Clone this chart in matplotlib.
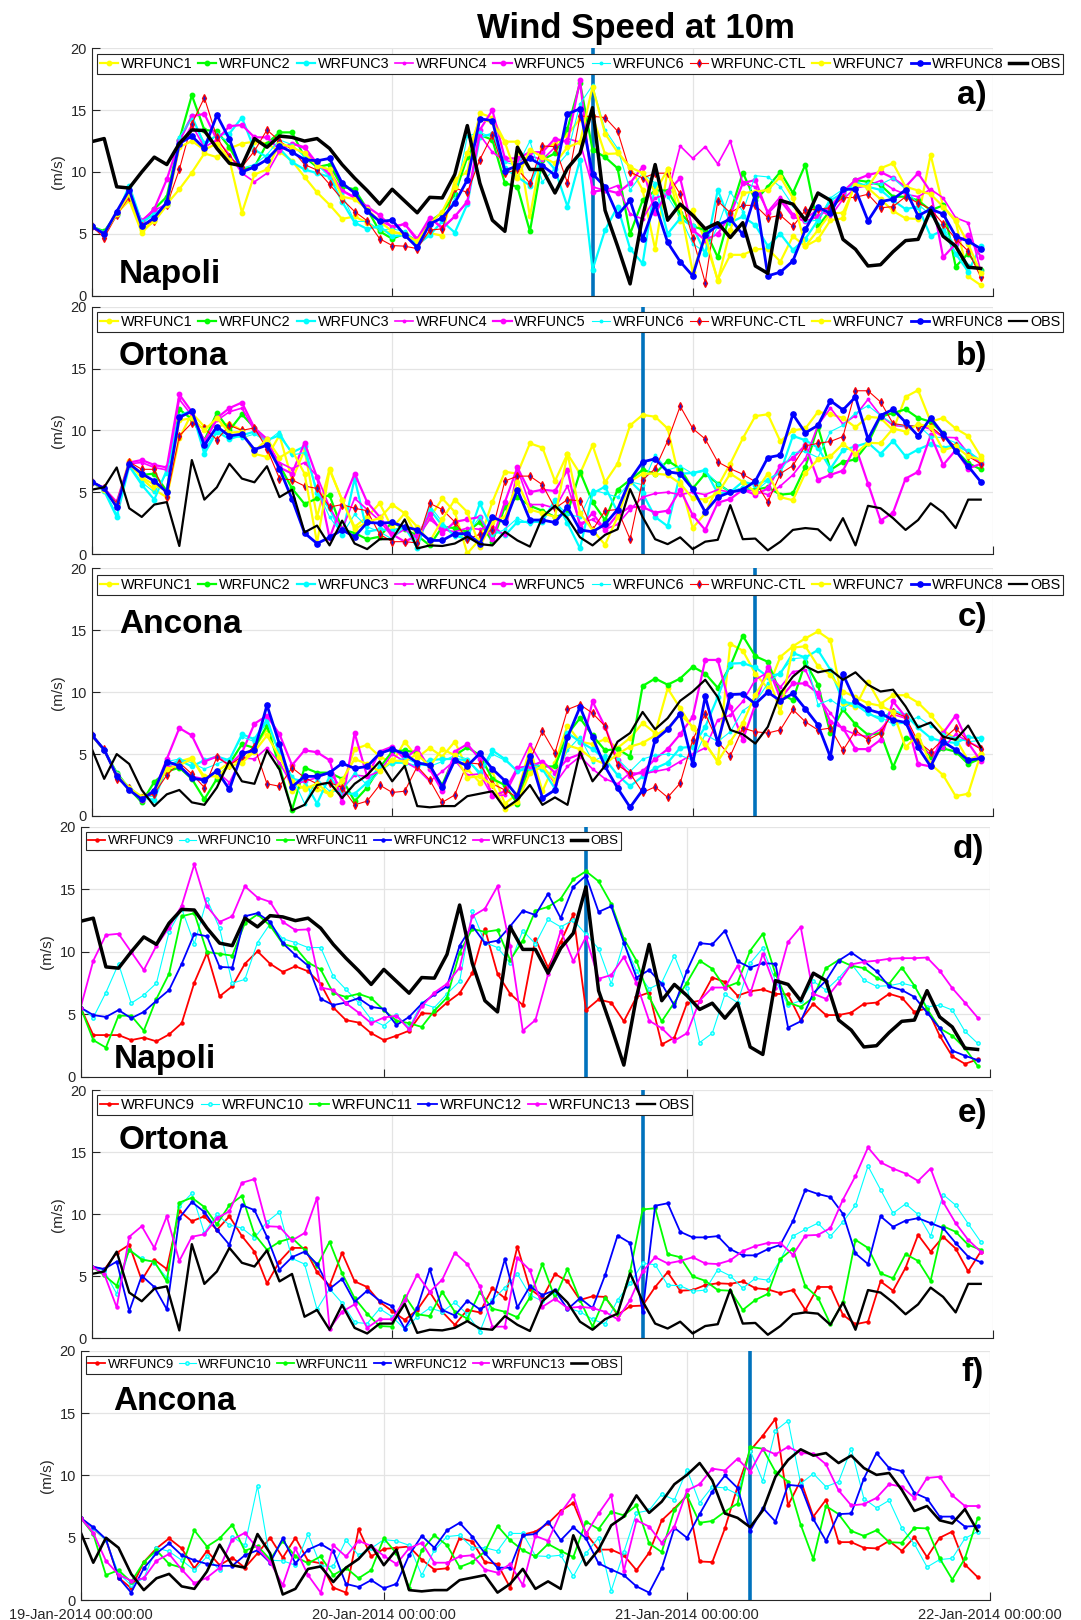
import numpy as np
import pandas as pd
import matplotlib
matplotlib.use('Agg')
import matplotlib.pyplot as plt
import matplotlib.dates as mdates

plt.rcParams['font.family'] = ['Liberation Sans', 'DejaVu Sans']

# hourly time axis, 19-Jan-2014 00:00 .. 21-Jan-2014 23:00
times = pd.date_range('2014-01-19 00:00', periods=72, freq='h')
day_ticks = pd.date_range('2014-01-19', '2014-01-22', freq='D')

# ---------------- observations ----------------
NAP_OBS = [12.45,12.7,8.8,8.7,10.0,11.2,10.6,12.3,13.4,13.35,
           11.9,10.7,10.5,12.7,12.0,12.9,12.8,12.5,12.7,11.9,
           10.6,9.5,8.5,7.4,8.6,7.65,6.7,7.95,7.9,9.8,
           13.75,9.1,6.1,5.2,12.0,10.2,10.2,8.3,10.3,11.5,
           15.2,6.9,4.0,0.95,6.4,10.6,6.1,7.4,6.5,5.4,
           5.9,4.7,5.9,2.4,1.8,7.7,7.4,6.1,8.3,7.7,
           4.55,3.75,2.4,2.5,3.55,4.45,4.55,6.9,4.8,4.0,
           2.3,2.2]
ORT_OBS = [5.2,5.4,7.0,3.7,3.0,4.0,4.2,0.65,7.6,4.4,
           5.4,7.3,6.1,5.8,7.1,4.6,5.2,1.75,2.3,0.7,
           2.7,0.85,0.4,1.2,1.2,2.8,0.45,0.7,0.65,0.85,
           1.4,0.8,0.7,1.8,1.1,0.6,3.0,3.9,2.9,1.35,
           0.7,1.55,2.0,5.25,3.0,1.2,0.8,1.35,0.4,1.0,
           1.15,3.95,1.2,1.25,0.3,1.0,1.95,2.1,2.0,1.1,
           2.9,0.7,3.9,3.7,2.9,1.95,2.75,4.1,3.35,2.1,
           4.4,4.4]
ANC_OBS = [5.45,3.0,5.0,4.2,2.1,0.8,1.75,2.1,1.1,0.9,
           2.3,4.45,2.8,2.6,5.3,3.75,0.45,0.9,2.5,2.7,
           1.45,2.6,3.3,4.4,2.8,4.05,0.8,0.7,0.8,0.8,
           1.6,1.8,2.0,0.6,1.3,2.5,0.9,1.5,0.9,5.2,
           2.8,4.05,6.0,6.7,8.4,7.0,7.9,9.3,10.05,11.0,
           9.6,6.95,6.6,5.85,7.2,9.9,11.25,12.1,11.6,11.8,
           11.0,11.6,10.6,10.05,10.2,8.85,7.15,7.55,6.4,6.15,
           7.3,5.55]

# ---------------- Napoli, runs 1-8 + CTL ----------------
NAP_W1 = [5.6,5.05,6.65,7.7,5.1,6.1,7.4,8.6,9.95,11.5,
          11.2,11.9,12.3,12.45,12.3,11.65,10.9,9.6,8.35,7.35,
          6.2,6.4,5.9,5.3,5.1,5.05,4.3,5.05,4.85,9.4,
          10.0,14.75,14.4,12.45,12.45,6.4,11.9,12.3,13.0,14.3,
          14.5,11.45,11.5,10.4,8.55,3.75,10.2,6.0,6.9,4.45,
          1.3,3.3,3.3,3.75,3.8,2.75,4.8,4.0,4.55,6.1,
          6.25,9.2,8.7,7.8,6.85,6.25,6.2,11.4,7.2,6.0,
          1.55,0.85]
NAP_W2 = [5.6,5.2,6.6,8.3,5.8,7.0,8.0,12.6,16.2,13.4,
          13.3,12.0,10.2,10.4,12.3,13.2,13.2,11.2,10.4,10.6,
          8.8,8.6,7.0,5.2,4.6,5.0,4.4,6.0,6.7,8.2,
          11.2,13.0,12.6,9.1,8.8,5.2,11.0,11.5,13.5,17.2,
          11.8,11.2,10.3,5.0,7.7,8.5,8.5,6.7,5.6,5.3,
          3.1,6.7,9.95,7.7,8.8,10.0,8.3,10.6,5.6,6.9,
          8.2,9.35,9.2,8.95,8.0,8.0,7.7,6.9,7.3,2.35,
          3.4,2.1]
NAP_W3 = [5.6,5.1,6.5,8.9,5.9,6.6,7.3,12.6,14.5,12.2,
          13.0,13.1,14.4,11.8,11.2,11.9,10.8,10.2,9.9,9.6,
          7.6,5.9,5.4,5.6,4.8,4.9,4.1,4.9,6.0,5.1,
          7.4,12.8,13.1,10.3,9.6,8.9,11.4,10.2,7.2,11.0,
          2.1,5.3,7.2,3.8,2.6,8.95,5.0,6.25,5.6,3.4,
          8.55,5.9,6.4,5.7,4.0,5.0,3.7,4.6,6.1,7.7,
          8.3,9.2,8.8,8.55,7.7,7.0,7.2,4.8,5.3,3.4,
          1.95,4.0]
NAP_W4 = [5.5,5.0,6.6,8.0,6.1,6.9,7.4,12.0,13.8,12.0,
          12.6,11.4,9.9,9.2,9.9,11.7,12.3,11.9,10.4,10.1,
          8.5,8.0,7.0,6.0,5.6,5.8,4.4,6.3,5.4,6.4,
          7.6,13.0,11.6,10.9,10.8,11.3,11.0,12.0,12.7,12.4,
          8.8,8.5,8.9,6.6,6.2,7.9,8.2,12.1,11.1,12.05,
          10.65,12.5,9.1,8.8,6.8,8.0,6.6,6.2,7.0,6.4,
          7.8,8.7,8.9,9.3,8.6,8.2,8.0,8.6,7.9,6.3,
          5.9,2.0]
NAP_W5 = [5.6,5.0,6.7,8.2,6.0,7.0,9.4,12.5,14.5,14.7,
          12.6,13.7,13.8,12.8,12.8,11.8,12.3,12.0,10.7,9.8,
          8.5,7.9,7.2,6.5,5.5,5.8,4.6,6.3,5.5,6.4,
          7.6,13.4,15.0,11.1,11.1,11.6,11.6,12.7,12.4,17.4,
          8.4,8.55,8.3,9.1,10.4,6.65,8.4,9.5,5.3,4.5,
          5.0,6.5,9.1,9.35,6.65,7.7,6.4,6.0,6.4,7.2,
          8.4,9.35,9.75,10.0,9.5,8.8,9.9,8.4,3.1,4.2,
          4.9,3.15]
NAP_W6 = [5.6,5.1,6.7,8.8,6.0,6.6,7.3,12.8,14.3,12.4,
          12.9,12.5,10.3,10.6,11.4,12.6,12.2,11.2,10.6,9.6,
          8.2,6.0,6.0,5.3,5.4,5.2,4.3,5.8,6.2,7.8,
          12.9,13.2,12.8,10.8,10.5,12.5,9.2,10.3,11.5,15.5,
          17.0,13.4,11.9,8.55,9.9,9.1,8.0,6.4,4.2,3.5,
          5.6,8.4,6.8,9.7,9.6,8.8,7.3,6.0,6.1,7.9,
          8.6,8.8,9.1,9.0,9.5,8.6,7.4,6.5,5.5,4.0,
          2.5,2.1]
NAP_CTL = [5.6,4.7,6.5,8.0,5.6,6.05,7.3,10.2,13.9,16.0,
           12.8,11.2,10.4,11.7,13.4,12.5,11.8,10.6,10.15,9.0,
           7.8,6.8,6.05,4.6,4.05,4.0,3.8,5.3,5.4,8.7,
           8.35,11.0,13.0,9.9,10.2,9.1,12.1,12.05,9.1,14.5,
           14.5,14.4,13.3,10.0,9.5,9.9,9.9,8.2,4.7,1.05,
           7.65,6.7,7.3,7.3,6.3,6.5,5.6,6.9,7.0,7.1,
           7.9,7.95,8.2,7.1,7.2,8.0,7.5,7.0,5.8,4.6,
           3.6,1.5]
NAP_W7 = [5.6,5.0,6.6,8.2,5.3,6.0,7.3,12.0,12.5,11.8,
          12.3,11.0,6.7,9.8,10.2,12.3,12.0,11.5,10.5,10.2,
          8.0,7.8,7.0,6.0,5.2,4.9,4.4,5.8,6.8,8.8,
          11.5,14.3,14.0,12.4,9.5,11.8,11.2,10.7,12.0,12.4,
          16.9,13.1,11.6,10.4,9.9,8.4,10.2,7.2,1.9,4.9,
          1.2,5.3,8.3,8.4,8.55,9.6,7.9,4.0,5.3,6.65,
          6.7,8.95,8.8,10.3,10.7,8.8,8.5,8.2,7.2,6.1,
          4.2,1.8]
NAP_W8 = [5.6,5.0,6.8,8.55,5.6,6.3,7.55,12.3,12.9,11.9,
          14.6,12.65,10.0,10.4,11.0,12.1,11.6,11.0,10.9,11.1,
          9.1,8.3,6.85,6.0,6.1,4.9,3.9,5.8,6.3,7.5,
          9.35,14.3,14.15,10.1,10.5,11.1,10.5,9.75,14.7,15.1,
          9.85,8.8,6.5,7.7,4.6,7.4,4.3,2.75,1.6,4.9,
          5.7,6.2,4.95,8.2,1.6,1.9,2.8,5.35,7.15,6.65,
          8.6,8.6,6.05,7.6,7.8,8.55,6.45,7.0,6.6,4.8,
          4.4,3.8]

# ---------------- Ortona, runs 1-8 + CTL ----------------
ORT_W1 = [5.85,5.3,4.1,7.55,6.1,5.2,4.6,9.35,11.4,10.3,
          10.3,10.55,10.0,8.1,7.85,9.6,6.0,8.4,3.0,6.9,
          4.35,2.2,3.0,4.1,2.1,3.3,1.4,2.9,4.5,3.4,
          0.05,1.2,4.2,6.65,6.5,8.95,8.6,5.9,8.1,6.5,
          8.8,5.8,7.3,10.4,11.25,11.1,10.15,5.8,2.1,3.3,
          5.45,7.3,9.35,11.15,11.3,9.1,10.0,10.15,11.5,11.3,
          11.0,10.25,11.1,11.0,10.0,12.7,13.25,10.7,11.0,10.15,
          9.55,7.9]
ORT_W2 = [5.85,5.2,4.1,7.2,6.4,6.5,5.1,11.7,10.9,9.2,
          11.4,10.0,11.3,10.2,9.0,7.2,5.3,4.05,4.5,4.75,
          2.0,1.7,1.2,1.4,2.6,2.0,1.5,0.7,2.2,2.1,
          1.8,2.6,1.0,3.8,4.6,3.9,3.5,3.0,3.3,6.65,
          4.2,2.75,5.2,6.0,6.8,6.5,7.55,6.9,5.3,6.5,
          5.7,5.0,5.3,5.2,5.4,4.8,4.9,7.05,10.3,6.8,
          7.45,7.65,8.95,11.1,11.4,11.7,11.0,10.7,9.75,8.4,
          7.35,6.85]
ORT_W3 = [5.85,5.1,3.0,7.1,5.6,4.4,6.8,11.2,11.6,8.1,
          9.9,9.3,9.6,9.9,9.2,9.6,8.2,8.7,4.9,3.7,
          1.5,6.1,1.8,2.0,1.9,2.2,0.5,3.6,2.3,1.5,
          1.2,4.1,2.0,1.5,2.6,2.6,2.6,4.4,2.5,0.45,
          4.9,5.45,3.4,5.9,4.9,3.0,2.25,6.5,6.55,6.8,
          4.9,5.0,5.85,5.6,6.0,6.6,9.55,9.2,8.6,6.9,
          8.4,8.7,9.0,8.1,9.15,7.9,8.45,8.9,8.6,8.8,
          8.3,7.45]
ORT_W4 = [5.8,5.4,4.0,7.3,7.4,7.0,6.8,12.5,11.2,9.2,
          10.8,11.5,11.8,10.0,9.0,7.4,6.9,7.4,6.3,3.8,
          2.0,4.5,3.6,2.7,1.4,2.0,1.3,2.8,2.0,1.8,
          2.1,2.0,2.3,1.5,6.9,4.0,4.0,3.7,5.5,2.5,
          2.8,2.0,2.4,3.6,4.6,4.9,5.0,4.8,5.0,4.8,
          5.2,5.0,5.2,5.1,4.8,5.5,6.4,7.7,10.4,11.8,
          10.5,11.2,12.5,11.2,10.4,10.3,10.4,10.1,9.45,9.4,
          8.15,7.3]
ORT_W5 = [5.85,5.3,4.2,7.4,7.6,7.2,7.0,12.9,11.5,9.0,
          11.0,11.8,12.25,10.2,9.3,7.0,6.5,9.0,6.2,1.3,
          4.0,6.5,4.2,3.0,1.6,1.0,1.5,3.2,1.7,2.6,
          2.8,3.0,1.2,4.2,7.0,5.0,5.2,5.1,6.8,2.2,
          3.3,1.95,3.2,3.8,3.8,3.35,3.5,5.2,3.15,1.95,
          4.15,4.45,5.2,4.8,5.3,7.15,7.75,8.8,6.0,6.4,
          6.75,8.7,5.7,2.7,3.35,6.1,6.65,9.6,7.2,8.4,
          6.9,7.3]
ORT_W6 = [5.8,5.2,3.2,7.2,5.8,5.0,6.5,11.0,11.6,8.4,
          10.0,9.6,9.4,9.7,9.1,9.9,8.0,8.2,5.2,3.0,
          1.6,3.2,2.2,1.8,1.2,2.3,1.0,3.9,2.6,1.4,
          1.6,3.0,1.5,2.0,2.9,2.4,2.9,4.2,3.2,3.0,
          5.2,4.9,4.6,5.85,5.6,8.0,6.8,7.1,6.5,6.7,
          5.7,5.0,5.4,5.1,5.9,6.7,8.2,8.3,7.8,9.9,
          10.4,11.4,12.0,11.2,10.55,10.3,10.4,9.5,9.4,9.0,
          8.3,7.6]
ORT_CTL = [5.85,5.3,4.1,7.45,6.85,6.85,4.6,9.55,10.6,10.15,
           9.25,10.4,10.0,10.2,8.5,6.1,6.0,5.5,5.3,3.8,
           4.0,3.7,3.5,1.6,1.0,1.0,0.9,4.1,3.6,2.6,
           1.2,1.6,1.95,5.9,6.3,6.3,5.6,3.7,4.4,4.3,
           1.95,3.5,3.6,1.2,6.0,6.9,9.15,11.95,10.15,9.3,
           7.45,6.9,6.45,5.85,4.2,6.5,7.15,8.75,8.95,9.1,
           9.5,13.2,13.2,12.3,10.55,10.4,10.3,10.3,9.5,8.7,
           7.9,7.3]
ORT_W7 = [5.8,5.2,3.9,7.3,6.2,5.6,5.1,10.8,11.0,10.0,
          11.0,9.8,9.9,8.3,9.3,7.8,8.4,6.5,0.9,6.8,
          4.4,2.0,2.6,2.9,4.0,3.3,2.2,1.0,2.8,4.4,
          3.4,0.6,2.6,3.0,5.8,3.6,3.3,3.0,8.1,3.3,
          1.95,0.75,3.0,5.85,6.5,6.5,6.4,5.7,4.5,4.4,
          4.9,6.5,5.85,5.0,6.5,4.6,4.35,6.55,7.65,7.9,
          8.9,8.1,9.0,8.95,10.15,9.9,10.5,10.3,8.4,8.7,
          7.9,7.65]
ORT_W8 = [5.85,5.3,3.8,7.3,6.5,5.9,5.0,11.05,11.55,8.8,
          10.3,9.55,9.7,8.45,8.8,6.9,4.45,1.7,0.85,1.35,
          1.95,1.4,2.55,2.5,2.55,2.2,1.95,1.1,1.1,1.65,
          1.65,0.85,3.0,2.55,5.2,2.75,2.75,2.55,3.8,1.95,
          1.8,2.4,3.6,6.0,7.45,7.7,6.65,6.5,5.25,3.4,
          4.6,5.0,5.2,5.9,7.8,8.0,11.3,9.8,10.4,12.4,
          11.65,12.7,9.3,11.2,11.7,10.65,9.55,11.0,9.7,8.35,
          7.1,5.85]

# ---------------- Ancona, runs 1-8 + CTL ----------------
ANC_W1 = [6.55,5.35,3.4,2.2,1.6,1.8,4.0,4.4,4.7,3.0,
          3.6,4.3,4.4,5.5,7.0,5.4,2.0,2.4,2.2,1.75,
          2.5,5.4,5.75,4.8,4.3,6.0,4.7,5.5,4.8,6.0,
          3.8,2.7,3.6,1.0,1.8,5.5,2.0,4.3,7.3,6.0,
          5.8,6.2,5.5,6.3,7.5,6.7,10.3,8.7,7.1,5.9,
          4.35,13.9,13.35,11.5,10.3,12.85,13.7,14.35,14.9,14.2,
          9.1,8.8,10.85,9.05,9.75,9.75,9.15,8.15,6.9,6.25,
          4.5,5.0]
ANC_W2 = [6.55,5.3,3.5,2.2,1.1,2.75,3.6,3.9,3.0,1.35,
          3.0,4.2,5.8,5.5,7.3,4.0,0.5,3.9,3.5,3.5,
          3.0,1.2,2.3,3.9,5.2,5.3,5.1,4.0,2.5,4.9,
          5.55,4.9,3.0,2.5,1.0,4.2,4.0,4.0,6.6,7.9,
          6.5,5.3,5.4,4.8,10.5,11.1,10.6,11.1,12.05,11.5,
          10.35,12.1,14.55,12.9,12.45,9.9,9.35,12.4,10.6,6.7,
          8.6,7.4,6.55,6.7,3.95,6.3,6.1,4.8,5.45,5.2,
          4.2,4.65]
ANC_W3 = [6.55,5.3,3.4,2.2,1.5,1.3,4.0,4.5,4.0,4.5,
          4.8,4.5,6.6,6.2,7.8,5.0,3.0,2.8,1.0,3.2,
          1.8,1.8,2.7,4.0,4.3,4.3,4.0,4.5,4.6,4.6,
          4.5,3.5,5.3,4.6,3.6,3.9,3.8,2.2,6.7,6.0,
          5.4,4.6,3.3,2.4,3.2,3.85,4.3,5.5,5.6,7.2,
          9.6,12.3,12.35,12.0,11.25,11.5,13.15,12.8,13.4,11.8,
          9.25,9.0,8.3,7.8,8.5,8.15,7.15,6.3,6.0,5.9,
          6.35,6.3]
ANC_W4 = [6.5,5.3,3.3,2.2,1.3,1.9,4.0,4.0,3.2,3.0,
          3.6,2.7,4.7,4.6,5.5,4.3,2.5,2.8,3.1,3.5,
          2.2,3.3,3.2,3.6,5.0,4.4,3.8,2.8,3.6,4.5,
          3.3,3.4,1.6,1.7,3.7,5.8,4.1,2.6,4.0,4.8,
          3.8,3.0,2.6,3.5,3.4,3.6,3.8,4.4,5.0,5.5,
          7.75,8.15,9.25,11.0,11.6,10.4,11.65,11.8,9.6,8.3,
          7.0,6.6,6.4,7.0,8.2,7.9,5.6,5.0,5.5,6.6,
          6.0,5.5]
ANC_W5 = [6.55,5.35,3.3,2.2,1.3,2.0,4.6,7.1,6.5,4.4,
          4.8,4.1,5.1,7.45,8.1,6.6,4.1,5.3,5.15,4.5,
          1.1,6.7,3.2,5.2,5.6,4.6,5.45,3.8,2.0,5.2,
          5.8,4.6,1.6,2.0,3.9,4.0,4.4,3.5,4.6,5.0,
          9.25,7.2,4.5,3.2,3.6,4.6,5.4,6.6,8.0,12.6,
          12.6,8.8,6.15,9.0,12.05,9.5,10.7,10.7,9.9,7.6,
          7.1,5.4,5.4,6.15,9.25,8.0,4.2,4.0,6.7,8.1,
          5.9,4.45]
ANC_W6 = [6.5,5.4,3.3,2.4,1.5,1.6,4.4,4.6,4.3,3.8,
          4.2,4.6,6.4,6.0,7.6,5.2,3.2,1.0,3.0,2.0,
          2.0,3.5,2.5,3.6,4.3,4.7,4.2,4.0,4.4,4.9,
          4.6,3.3,5.0,4.5,3.6,4.2,4.0,3.0,5.3,6.4,
          4.4,4.9,4.6,3.6,4.6,4.9,5.0,4.9,4.5,6.6,
          6.0,6.8,8.5,9.2,10.7,11.6,12.7,12.8,9.0,9.4,
          8.7,9.3,8.2,8.0,7.4,7.5,8.0,7.3,6.6,6.3,
          6.0,6.1]
ANC_CTL = [6.55,5.4,3.0,2.3,1.45,1.8,3.3,4.3,3.4,2.3,
           4.75,4.1,4.8,5.6,2.6,2.4,3.9,3.1,2.6,2.7,
           2.3,0.9,1.2,2.5,1.9,2.0,4.0,2.9,1.1,1.7,
           4.3,4.2,2.6,2.1,1.5,4.5,6.85,5.1,8.6,9.0,
           8.3,7.25,4.1,3.45,1.9,2.35,1.5,2.65,6.15,8.25,
           6.0,4.85,7.1,6.8,6.7,6.95,8.6,7.6,6.95,7.1,
           5.3,6.9,6.15,6.7,8.4,8.0,6.0,5.2,6.2,7.1,
           6.0,5.4]
ANC_W7 = [6.5,5.3,3.3,2.3,1.5,2.0,3.8,4.1,4.6,3.2,
          3.2,4.0,4.3,5.2,6.5,4.8,2.8,2.2,2.6,1.8,
          2.9,4.6,4.2,3.6,4.5,4.4,5.0,4.0,5.4,4.9,
          3.1,3.2,2.5,0.6,1.1,3.5,4.0,2.8,5.7,5.4,
          4.6,4.2,5.0,5.6,5.9,6.5,7.1,8.2,7.2,5.8,
          4.4,6.0,7.5,9.8,11.4,8.4,13.6,13.7,12.1,11.4,
          10.05,9.6,9.1,8.9,8.4,5.55,6.55,4.2,3.3,1.6,
          1.8,5.0]
ANC_W8 = [6.55,5.35,3.25,2.1,1.35,2.05,4.4,4.05,3.05,2.9,
          3.65,2.15,5.05,5.3,8.95,5.8,2.35,3.2,3.2,3.5,
          4.25,3.85,4.0,5.05,5.4,5.0,4.3,4.1,2.35,4.5,
          4.05,5.05,3.8,2.85,1.6,4.85,1.45,2.1,6.35,8.8,
          6.35,4.0,2.25,0.7,2.1,6.15,7.0,8.25,4.2,9.65,
          5.9,9.8,9.85,9.05,10.0,9.3,9.9,8.65,7.35,4.75,
          11.45,9.25,8.6,8.3,7.75,7.55,5.55,4.0,6.0,5.35,
          4.5,4.65]

# ---------------- Napoli, runs 9-13 ----------------
NAP_W9 = [5.55,3.35,3.35,3.35,2.95,3.15,2.85,3.4,4.3,7.55,
          9.9,6.45,7.25,9.05,10.05,9.05,8.4,8.85,8.45,7.45,
          5.55,4.55,4.35,3.5,2.95,3.3,3.7,5.1,5.05,5.95,
          6.7,8.3,11.85,8.25,6.65,5.75,11.05,8.75,10.8,13.0,
          5.35,6.2,5.95,4.45,6.4,6.75,2.6,3.15,5.9,6.1,
          7.95,7.6,6.5,6.85,7.0,6.65,6.6,4.55,5.85,4.95,
          4.95,5.15,5.85,5.95,6.65,6.35,5.2,5.5,3.3,1.65,
          1.05,1.4]
NAP_W10 = [5.55,4.75,6.75,9.05,5.9,6.55,7.5,11.6,13.45,10.65,
           14.2,11.9,7.5,7.8,10.75,12.25,11.05,10.75,10.35,10.35,
           8.05,7.0,5.95,4.6,4.1,4.95,3.95,5.9,5.55,6.65,
           7.65,13.25,10.75,10.35,9.1,11.7,10.65,12.6,12.0,12.55,
           11.4,10.25,7.45,10.75,8.5,7.05,7.55,9.7,7.15,2.75,
           3.5,6.6,5.95,9.1,10.3,7.7,5.75,6.1,7.65,6.95,
           7.9,9.05,7.75,7.25,7.3,7.5,7.25,5.6,5.75,5.35,
           3.65,2.7]
NAP_W11 = [5.55,2.95,2.35,4.9,4.9,3.7,6.25,8.25,12.85,13.1,
           10.0,9.85,9.7,12.3,13.0,12.1,10.65,10.35,9.15,8.6,
           6.7,6.4,6.65,6.3,5.35,4.5,4.3,4.0,5.3,6.35,
           9.95,11.85,11.6,11.75,9.35,10.9,13.3,13.6,14.25,15.8,
           16.45,15.65,13.85,11.05,9.3,6.4,4.45,5.95,7.55,9.3,
           8.65,7.15,7.55,10.1,11.45,8.25,5.95,5.6,6.35,8.7,
           9.35,8.9,8.7,7.95,7.45,8.75,7.3,5.45,3.9,3.3,
           2.3,0.9]
NAP_W12 = [5.55,4.95,4.8,5.35,4.7,5.2,6.1,6.95,9.05,11.45,
           11.25,8.8,8.75,12.85,13.1,12.4,10.7,9.75,8.9,6.25,
           5.75,5.95,6.3,5.6,5.45,4.15,4.8,5.85,6.6,7.25,
           10.5,12.1,10.7,10.9,12.05,13.3,12.95,14.65,12.7,15.2,
           16.1,13.2,13.65,10.75,7.95,8.55,7.45,5.7,8.5,10.7,
           10.6,11.7,9.25,8.75,9.1,9.05,3.95,4.45,6.7,7.7,
           9.3,9.95,9.25,8.45,7.25,6.95,6.4,5.15,3.9,2.1,
           1.7,1.35]
NAP_W13 = [5.55,9.3,11.35,11.45,10.0,8.55,10.5,11.95,13.7,17.0,
           13.65,12.4,12.85,15.25,14.35,14.0,12.4,11.75,11.8,7.15,
           6.95,5.9,5.15,4.3,4.75,4.9,3.8,5.65,6.75,7.45,
           8.75,12.85,13.45,15.25,10.45,3.7,4.55,8.2,11.7,9.25,
           11.2,7.85,8.15,9.6,7.5,4.5,3.9,2.9,3.5,6.1,
           7.15,7.15,8.9,6.65,9.85,7.15,10.8,12.0,6.65,6.25,
           7.55,9.0,9.2,9.3,9.45,9.5,9.5,9.55,8.5,7.1,
           5.95,4.75]

# ---------------- Ortona, runs 9-13 ----------------
ORT_W9 = [5.8,5.55,6.9,7.55,4.7,6.35,5.6,10.3,9.45,9.85,
          8.75,9.85,8.25,7.0,4.45,6.2,7.3,7.3,5.35,4.25,
          6.9,4.6,4.15,2.95,2.2,1.5,2.3,3.75,2.15,1.1,
          2.3,2.1,4.05,3.25,7.4,4.0,3.25,5.2,4.6,3.1,
          3.4,3.35,1.9,2.6,2.65,4.15,5.35,3.85,3.9,4.3,
          4.45,4.4,4.6,4.05,3.95,3.65,3.9,2.3,4.15,4.15,
          1.9,1.15,1.35,4.6,3.85,5.7,8.35,7.0,8.2,7.25,
          5.4,7.0]
ORT_W10 = [5.8,5.45,3.6,7.15,6.45,6.1,4.9,10.65,11.7,8.5,
           10.0,9.15,8.9,8.1,9.4,10.2,6.45,6.0,2.35,4.0,
           2.85,1.3,1.2,2.4,1.75,0.75,1.75,2.45,2.15,2.9,
           1.95,0.55,3.1,4.1,5.2,3.5,3.0,3.75,2.45,2.15,
           1.55,1.15,3.1,4.45,6.05,5.95,4.3,4.25,3.8,3.9,
           5.55,5.05,4.05,4.85,4.7,6.35,8.25,8.8,9.3,8.25,
           9.4,10.75,13.9,12.0,10.1,10.85,10.0,8.25,11.6,10.75,
           9.25,7.8]
ORT_W11 = [5.8,5.1,4.25,7.15,6.35,6.2,4.6,10.95,11.35,10.6,
           9.2,10.75,11.5,8.4,7.15,7.8,8.1,7.15,5.85,7.8,
           5.25,3.25,2.0,1.0,0.95,3.45,1.95,1.8,3.75,2.15,
           1.6,3.75,2.4,2.15,1.7,3.3,6.0,3.25,5.6,3.1,
           0.95,3.3,2.0,5.4,10.4,10.5,6.8,6.55,5.0,4.65,
           3.9,3.85,2.3,3.1,3.6,6.4,7.25,4.2,3.3,1.15,
           2.9,7.95,7.3,5.25,4.85,6.8,6.25,4.65,9.05,8.6,
           7.55,7.15]
ORT_W12 = [5.8,5.6,6.2,2.2,5.05,4.15,2.35,9.7,11.0,10.2,
           8.75,7.55,10.75,10.35,8.2,5.55,6.55,7.0,6.0,4.0,
           4.8,2.95,3.85,3.05,2.6,0.8,2.45,5.6,2.3,1.85,
           3.05,2.35,2.9,6.4,2.5,4.2,3.5,3.9,2.35,3.25,
           2.45,5.1,8.3,7.7,2.15,10.7,10.9,8.6,8.15,8.15,
           8.25,7.2,6.7,6.7,7.2,7.55,9.45,12.0,11.65,11.4,
           10.05,6.85,6.0,9.85,9.0,9.5,9.7,9.3,8.9,7.7,
           6.6,6.15]
ORT_W13 = [5.8,5.2,2.5,8.2,9.05,7.3,9.85,6.25,8.2,8.4,
           9.7,10.25,12.55,12.85,9.05,9.0,7.9,8.5,11.35,0.8,
           2.15,2.75,0.85,1.55,1.55,3.1,5.15,3.75,4.75,6.9,
           6.0,4.2,0.95,0.95,6.5,5.5,2.55,3.2,2.45,2.55,
           2.45,2.15,1.55,3.1,5.4,6.55,6.05,6.25,6.55,6.05,
           6.0,6.3,7.05,7.45,7.7,7.7,6.75,8.3,8.35,8.9,
           11.2,13.1,15.4,14.2,13.7,13.3,12.7,13.7,11.0,9.3,
           7.95,7.0]

# ---------------- Ancona, runs 9-13 ----------------
ANC_W9 = [6.6,5.75,4.85,1.8,0.95,3.05,4.15,4.95,4.15,2.55,
          3.95,2.8,3.4,2.6,3.75,5.0,3.4,5.0,3.15,2.95,
          1.0,0.6,5.7,3.5,4.1,4.2,4.3,3.25,2.45,2.55,
          5.0,4.7,3.05,2.9,1.0,5.25,5.5,6.15,7.15,7.8,
          5.35,4.05,4.05,3.6,2.4,3.8,6.4,7.35,8.4,3.1,
          3.05,5.75,9.1,12.0,13.2,14.55,7.6,9.6,6.7,8.05,
          4.65,4.65,4.2,4.15,4.75,3.95,5.05,3.45,5.0,5.5,
          2.85,1.85]
ANC_W10 = [6.6,5.75,4.8,2.15,1.2,1.75,4.2,3.9,3.2,2.4,
           3.5,2.4,5.1,4.4,9.15,3.2,3.15,2.8,5.3,2.75,
           2.7,4.8,3.6,4.15,4.85,4.75,4.4,2.0,4.0,5.1,
           5.2,4.2,4.2,3.95,5.35,5.35,3.55,3.5,3.6,1.9,
           3.75,5.0,0.75,3.85,7.0,7.2,8.5,8.05,10.45,7.8,
           9.1,9.0,8.5,12.0,9.55,13.6,14.4,9.35,10.15,9.1,
           9.5,12.15,8.15,7.4,8.0,5.8,4.5,2.65,3.25,3.35,
           4.95,5.5]
ANC_W11 = [6.6,5.3,2.0,2.4,1.45,3.05,4.0,2.9,2.6,5.6,
           4.3,4.95,6.05,3.95,4.35,3.25,4.75,3.5,2.95,3.5,
           2.0,2.6,1.75,2.4,4.95,3.75,1.0,4.0,5.2,4.4,
           2.65,3.05,3.9,5.95,4.8,4.0,3.5,4.5,3.95,3.45,
           6.3,5.7,7.1,6.8,7.6,4.55,3.85,7.25,8.4,6.2,
           6.35,7.1,7.75,12.3,12.15,10.3,9.5,6.05,3.3,7.55,
           6.9,5.55,5.15,5.6,4.65,4.6,5.8,5.75,3.35,1.65,
           3.35,6.55]
ANC_W12 = [6.6,5.85,4.9,1.8,0.6,2.55,3.75,4.55,3.6,3.2,
           2.9,2.75,2.75,3.6,4.0,3.0,4.95,2.95,4.05,4.5,
           3.9,1.3,1.05,1.6,0.95,1.3,3.6,5.15,4.2,5.6,
           6.2,5.1,3.75,2.6,2.6,5.2,5.3,6.3,4.8,5.85,
           4.95,2.95,2.45,2.0,1.1,0.6,2.55,5.8,5.0,6.9,
           8.7,10.0,9.0,5.55,7.4,6.3,9.25,9.15,6.5,4.75,
           6.9,6.95,9.75,11.8,10.6,10.35,8.6,8.15,6.7,6.7,
           5.9,5.95]
ANC_W13 = [6.6,5.4,3.15,2.05,1.55,1.75,3.15,3.7,2.45,1.35,
           1.8,2.6,4.85,5.4,4.15,3.05,1.2,4.15,2.0,0.6,
           4.4,3.5,4.75,4.35,3.55,2.9,4.15,4.6,3.0,3.0,
           3.5,3.6,2.45,2.2,2.9,1.2,5.15,4.75,7.0,8.4,
           5.3,6.95,8.4,2.35,6.4,5.9,4.6,5.9,8.8,9.3,
           10.55,10.4,11.35,10.3,12.15,11.7,12.3,11.8,11.75,10.9,
           8.8,7.6,7.7,8.2,9.3,9.1,8.2,9.8,9.9,8.4,
           7.55,7.55]

RUNS_A = ['WRFUNC1', 'WRFUNC2', 'WRFUNC3', 'WRFUNC4', 'WRFUNC5',
          'WRFUNC6', 'WRFUNC-CTL', 'WRFUNC7', 'WRFUNC8']
RUNS_B = ['WRFUNC9', 'WRFUNC10', 'WRFUNC11', 'WRFUNC12', 'WRFUNC13']

STYLE = {
    'WRFUNC1': dict(color=(1, 1, 0), lw=1.6, marker='o', ms=3.2),
    'WRFUNC2': dict(color=(0, 1, 0), lw=1.6, marker='o', ms=3.2),
    'WRFUNC3': dict(color=(0, 1, 1), lw=1.6, marker='o', ms=3.2),
    'WRFUNC4': dict(color=(1, 0, 1), lw=1.2, marker='o', ms=1.8),
    'WRFUNC5': dict(color=(1, 0, 1), lw=1.6, marker='o', ms=3.2),
    'WRFUNC6': dict(color=(0, 1, 1), lw=0.8, marker='o', ms=1.8),
    'WRFUNC-CTL': dict(color=(1, 0, 0), lw=0.8, marker='d', ms=4,
                       mfc=(0.1, 0.1, 0.8), mec=(1, 0, 0), mew=0.9),
    'WRFUNC7': dict(color=(1, 1, 0), lw=1.6, marker='o', ms=3.2),
    'WRFUNC8': dict(color=(0, 0, 1), lw=2.0, marker='o', ms=3.8),
    'WRFUNC9': dict(color=(1, 0, 0), lw=1.3, marker='o', ms=2.2),
    'WRFUNC10': dict(color=(0, 1, 1), lw=0.8, marker='o', ms=2.4,
                     mfc=(0.7, 1, 1)),
    'WRFUNC11': dict(color=(0, 1, 0), lw=1.3, marker='o', ms=2.2),
    'WRFUNC12': dict(color=(0, 0, 1), lw=1.3, marker='o', ms=2.2),
    'WRFUNC13': dict(color=(1, 0, 1), lw=1.3, marker='o', ms=2.2),
}

panels = [
    # rect, runs, series, obs, obs lw, vline hour, station, station y, letter, letter y, legend anchor, legend size
    ([0.0848, 0.8175, 0.8340, 0.1527], RUNS_A,
     [NAP_W1, NAP_W2, NAP_W3, NAP_W4, NAP_W5, NAP_W6, NAP_CTL, NAP_W7, NAP_W8],
     NAP_OBS, 2.5, 40, 'Napoli', 0.085, 'a)', 0.81, (0.006, 0.977), 10.4),
    ([0.0848, 0.6580, 0.8340, 0.1527], RUNS_A,
     [ORT_W1, ORT_W2, ORT_W3, ORT_W4, ORT_W5, ORT_W6, ORT_CTL, ORT_W7, ORT_W8],
     ORT_OBS, 1.6, 44, 'Ortona', 0.797, 'b)', 0.798, (0.006, 0.979), 10.4),
    ([0.0848, 0.4963, 0.8340, 0.1529], RUNS_A,
     [ANC_W1, ANC_W2, ANC_W3, ANC_W4, ANC_W5, ANC_W6, ANC_CTL, ANC_W7, ANC_W8],
     ANC_OBS, 1.6, 53, 'Ancona', 0.775, 'c)', 0.803, (0.006, 0.973), 10.4),
    ([0.0746, 0.3352, 0.8414, 0.1544], RUNS_B,
     [NAP_W9, NAP_W10, NAP_W11, NAP_W12, NAP_W13],
     NAP_OBS, 2.5, 40, 'Napoli', 0.068, 'd)', 0.91, (0.0056, 0.978), 9.5),
    ([0.0848, 0.1738, 0.8340, 0.1531], RUNS_B,
     [ORT_W9, ORT_W10, ORT_W11, ORT_W12, ORT_W13],
     ORT_OBS, 1.7, 44, 'Ortona', 0.80, 'e)', 0.905, (0.0055, 0.981), 10.6),
    ([0.0746, 0.0123, 0.8414, 0.1538], RUNS_B,
     [ANC_W9, ANC_W10, ANC_W11, ANC_W12, ANC_W13],
     ANC_OBS, 1.9, 53, 'Ancona', 0.797, 'f)', 0.913, (0.0056, 0.979), 9.5),
]

fig = plt.figure(figsize=(10.81, 16.2), dpi=100)
dark = '#262626'

for i, (rect, runs, series, obs, obs_lw, vh, station, sy, letter, ly, anchor, lfs) in enumerate(panels):
    ax = fig.add_axes(rect)
    for name, vals in zip(runs, series):
        ax.plot(times, vals, label=name, **STYLE[name])
    ax.plot(times, obs, color='k', lw=obs_lw, label='OBS')
    ax.axvline(times[vh], color='#0072BD', lw=2.6, zorder=1.5)

    ax.set_xlim(day_ticks[0], day_ticks[-1])
    ax.set_ylim(0, 20)
    ax.set_xticks(day_ticks)
    ax.set_yticks([0, 5, 10, 15, 20])
    ax.xaxis.set_major_formatter(mdates.DateFormatter('%d-%b-%Y %H:%M:%S'))
    ax.grid(True, color='#e4e4e4', lw=0.9)
    ax.set_axisbelow(True)
    for s in ('top', 'right'):
        ax.spines[s].set_visible(False)
    for s in ('left', 'bottom'):
        ax.spines[s].set_color(dark)
        ax.spines[s].set_linewidth(0.8)
    ax.tick_params(direction='in', length=6, width=0.8, colors=dark,
                   labelsize=10.5, top=False, right=False)
    ax.tick_params(axis='x', pad=6)
    if i < 5:
        ax.tick_params(labelbottom=False)
    ax.set_ylabel('(m/s)', fontsize=11, color=dark)

    ax.text(0.03 if rect[0] > 0.08 else 0.036, sy, station, transform=ax.transAxes,
            fontsize=24, fontweight='bold', ha='left', va='center', zorder=10)
    ax.text(0.993, ly, letter, transform=ax.transAxes, fontsize=24,
            fontweight='bold', ha='right', va='center', zorder=10)

    leg = ax.legend(loc='upper left', bbox_to_anchor=anchor, ncol=len(runs) + 1,
                    fontsize=lfs, handlelength=1.25, handletextpad=0.2,
                    columnspacing=0.4, borderpad=0.2, borderaxespad=0,
                    frameon=True, fancybox=False, edgecolor=dark, framealpha=1)
    leg.get_frame().set_linewidth(0.8)

fig.text(0.588, 0.9827, 'Wind Speed at 10m', fontsize=25, fontweight='bold',
         ha='center', va='center')

fig.savefig('out.png', dpi=100)
